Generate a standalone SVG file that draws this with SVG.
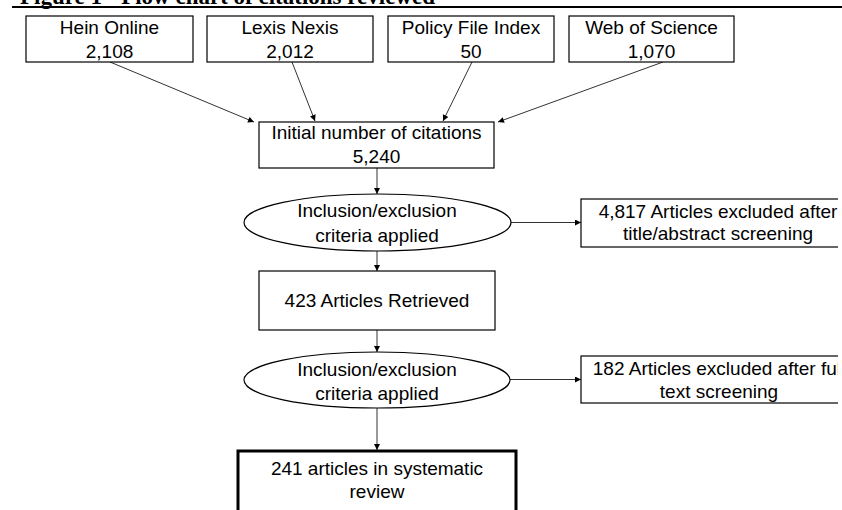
<svg xmlns="http://www.w3.org/2000/svg" width="842" height="510" viewBox="0 0 842 510">
<style>
.box{fill:#fff;stroke:#000;stroke-width:1.2}
.t{font-family:"Liberation Sans",Arial,sans-serif;font-size:19px;fill:#000;text-anchor:middle}
.c{stroke:#333;stroke-width:1;fill:none;marker-end:url(#ah)}
</style>
<defs>
<marker id="ah" viewBox="0 0 10 10" refX="10" refY="5" markerWidth="7" markerHeight="6" markerUnits="userSpaceOnUse" orient="auto">
<path d="M0,0 L10,5 L0,10 z" fill="#000"/>
</marker>
<clipPath id="clipR"><rect x="0" y="0" width="838" height="510"/></clipPath>
</defs>
<rect width="842" height="510" fill="#fff"/>
<g id="title">
<text x="20" y="3.5" font-family="'Liberation Serif','Times New Roman',serif" font-size="23" font-weight="bold">Figure 1 - Flow chart of citations reviewed</text>
<line x1="12" y1="7" x2="842" y2="7" stroke="#000" stroke-width="2"/>
</g>
<g id="connectors">
<line class="c" x1="110" y1="62" x2="254" y2="122"/>
<line class="c" x1="292" y1="62" x2="315" y2="121"/>
<line class="c" x1="472" y1="62" x2="443" y2="121"/>
<line class="c" x1="663" y1="62" x2="498" y2="122"/>
<line class="c" x1="377" y1="168" x2="377" y2="194"/>
<line class="c" x1="511" y1="222.5" x2="581" y2="222.5"/>
<line class="c" x1="377" y1="251" x2="377" y2="271"/>
<line class="c" x1="377" y1="330" x2="377" y2="352"/>
<line class="c" x1="510" y1="379.5" x2="581" y2="379.5"/>
<line class="c" x1="377" y1="408" x2="377" y2="450"/>
</g>
<g id="hein">
<rect class="box" x="26" y="16" width="167" height="46"/>
<text class="t" x="109.5" y="34">Hein Online</text>
<text class="t" x="109.5" y="58">2,108</text>
</g>
<g id="lexis">
<rect class="box" x="207" y="16" width="166" height="46"/>
<text class="t" x="290" y="34">Lexis Nexis</text>
<text class="t" x="290" y="58">2,012</text>
</g>
<g id="policy">
<rect class="box" x="388" y="16" width="166" height="46"/>
<text class="t" x="471" y="34">Policy File Index</text>
<text class="t" x="471" y="58">50</text>
</g>
<g id="wos">
<rect class="box" x="569" y="16" width="165" height="46"/>
<text class="t" x="651.5" y="34">Web of Science</text>
<text class="t" x="651.5" y="58">1,070</text>
</g>
<g id="initial">
<rect class="box" x="259" y="122" width="235" height="46"/>
<text class="t" x="376.5" y="139">Initial number of citations</text>
<text class="t" x="376.5" y="163">5,240</text>
</g>
<g id="criteria1">
<ellipse class="box" cx="377.5" cy="222.5" rx="133.5" ry="28.5"/>
<text class="t" x="377" y="217">Inclusion/exclusion</text>
<text class="t" x="377" y="242">criteria applied</text>
</g>
<g id="excluded1" clip-path="url(#clipR)">
<rect class="box" x="581" y="199" width="280" height="48"/>
<text class="t" x="718" y="218">4,817 Articles excluded after</text>
<text class="t" x="718" y="240">title/abstract screening</text>
</g>
<g id="retrieved">
<rect class="box" x="259" y="271" width="236" height="59"/>
<text class="t" x="377" y="307">423 Articles Retrieved</text>
</g>
<g id="criteria2">
<ellipse class="box" cx="377" cy="380" rx="133" ry="28"/>
<text class="t" x="377" y="376">Inclusion/exclusion</text>
<text class="t" x="377" y="400">criteria applied</text>
</g>
<g id="excluded2" clip-path="url(#clipR)">
<rect class="box" x="581" y="356" width="280" height="47"/>
<text class="t" x="719" y="375">182 Articles excluded after full</text>
<text class="t" x="719" y="398">text screening</text>
</g>
<g id="final">
<rect x="238" y="451" width="278" height="62" fill="#fff" stroke="#000" stroke-width="3"/>
<text class="t" x="377" y="475">241 articles in systematic</text>
<text class="t" x="377" y="498">review</text>
</g>
</svg>
